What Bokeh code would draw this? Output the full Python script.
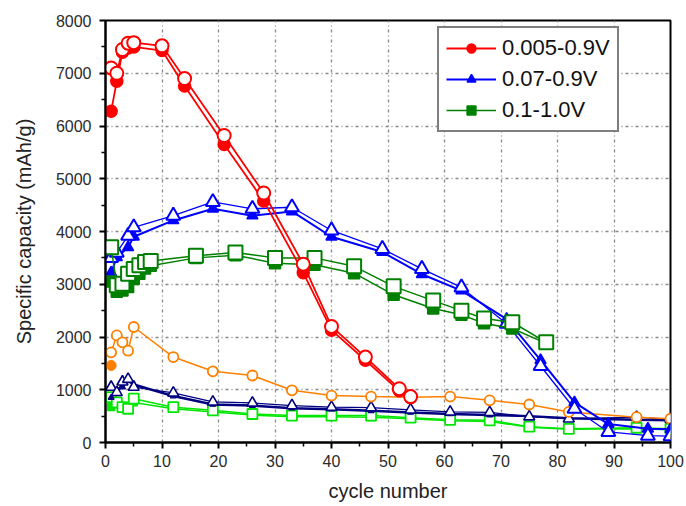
from bokeh.plotting import figure
from bokeh.models import FixedTicker, Legend, LegendItem, Range1d
from bokeh.embed import file_html
from bokeh.resources import INLINE

# ---------------- data ----------------
# 0.005-0.9V (red)
red_x      = [1, 2, 3, 4, 5, 10, 14, 21, 28, 35, 40, 46, 52, 54]
red_fill   = [6280, 6850, 7400, 7480, 7500, 7430, 6760, 5650, 4580, 3220, 2130, 1560, 980, 850]
red_open   = [7100, 7000, 7450, 7570, 7580, 7520, 6900, 5820, 4730, 3380, 2200, 1620, 1020, 870]

# 0.07-0.9V (blue)
blue_x     = [1, 2, 4, 5, 12, 19, 26, 33, 40, 49, 56, 63, 71, 77, 83, 89, 96, 100]
blue_fill  = [3220, 3510, 3700, 3900, 4210, 4430, 4300, 4380, 3900, 3610, 3190, 2880, 2340, 1560, 760, 350, 260, 250]
blue_open  = [3500, 3600, 3920, 4080, 4300, 4560, 4430, 4460, 4020, 3670, 3290, 2940, 2250, 1450, 640, 200, 130, 120]

# 0.1-1.0V (green)
green_x    = [1, 2, 3, 4, 5, 6, 7, 8, 16, 23, 30, 37, 44, 51, 58, 63, 67, 72, 78]
green_fill = [3050, 2860, 2880, 2950, 3100, 3200, 3300, 3350, 3500, 3550, 3400, 3370, 3210, 2800, 2540, 2420, 2260, 2160, 1880]
green_open = [3700, 2980, 3010, 3200, 3290, 3360, 3420, 3440, 3540, 3600, 3500, 3500, 3340, 2960, 2690, 2500, 2350, 2280, 1900]

# comparison series (lower curves)
orange_fill_x = [1]
orange_fill   = [1460]
orange_x    = [1, 2, 3, 4, 5, 12, 19, 26, 33, 40, 47, 54, 61, 68, 75, 82, 94, 100]
orange_open = [1710, 2030, 1900, 1740, 2190, 1620, 1350, 1270, 990, 890, 870, 860, 870, 800, 720, 580, 480, 450]

navy_x    = [1, 2, 3, 4, 5, 12, 19, 26, 33, 40, 47, 54, 61, 68, 75, 82, 94, 100]
navy_fill = [850, 1000, 1050, 1180, 1100, 880, 720, 700, 650, 630, 600, 570, 540, 520, 500, 460, 430, 420]
navy_open = [1050, 950, 1150, 1200, 1050, 940, 770, 750, 700, 670, 660, 620, 580, 570, 490, 450, 480, 440]

lime_x    = [1, 2, 3, 4, 5, 12, 19, 26, 33, 40, 47, 54, 61, 68, 75, 82, 94, 100]
lime_fill = [670, 720, 660, 640, 760, 640, 580, 520, 490, 490, 480, 450, 410, 400, 290, 250, 260, 240]
lime_open = [860, 760, 670, 640, 830, 670, 610, 540, 510, 510, 510, 470, 430, 420, 300, 260, 280, 260]

x_ticks = [0, 10, 20, 30, 40, 50, 60, 70, 80, 90, 100]
x_minor = [5, 15, 25, 35, 45, 55, 65, 75, 85, 95]
y_ticks = [0, 1000, 2000, 3000, 4000, 5000, 6000, 7000, 8000]
y_minor = [500, 1500, 2500, 3500, 4500, 5500, 6500, 7500]

labels = ["0.005-0.9V", "0.07-0.9V", "0.1-1.0V"]

# ---------------- figure ----------------
FONT = "Liberation Sans"
p = figure(width=686, height=506, output_backend="svg", toolbar_location=None,
           x_range=Range1d(0, 100), y_range=Range1d(0, 8000),
           min_border_left=105, min_border_right=16, min_border_top=20, min_border_bottom=64)
p.background_fill_color = "white"
p.border_fill_color = "white"
p.outline_line_color = "black"
p.outline_line_width = 2

for ax, maj, mnr in ((p.xaxis[0], x_ticks, x_minor), (p.yaxis[0], y_ticks, y_minor)):
    ax.ticker = FixedTicker(ticks=maj, minor_ticks=mnr)
    ax.axis_line_width = 2
    ax.axis_line_color = "black"
    ax.major_tick_line_width = 2
    ax.minor_tick_line_width = 1.5
    ax.major_tick_out = 6
    ax.major_tick_in = 0
    ax.minor_tick_out = 4
    ax.minor_tick_in = 0
    ax.major_label_text_font = FONT
    ax.major_label_text_font_size = "16px"
    ax.major_label_text_color = "#2a2a2a"
    ax.axis_label_text_font = FONT
    ax.axis_label_text_font_size = "20px"
    ax.axis_label_text_font_style = "normal"
    ax.axis_label_text_color = "#222222"

p.xaxis.axis_label = "cycle number"
p.yaxis.axis_label = "Specific capacity (mAh/g)"
p.xaxis.major_label_standoff = 6
p.xaxis.axis_label_standoff = 10
p.yaxis.major_label_standoff = 8
p.yaxis.axis_label_standoff = 18

p.xgrid.ticker = FixedTicker(ticks=x_ticks)
p.ygrid.ticker = FixedTicker(ticks=y_ticks)
for g in (p.xgrid[0], p.ygrid[0]):
    g.grid_line_color = "#888888"
    g.grid_line_dash = "3 3 1 3"
    g.grid_line_width = 1.3


def series(x, y, color, marker, size, fill, lw, mlw):
    ln = p.line(x, y, line_color=color, line_width=lw)
    sc = p.scatter(x, y, marker=marker, size=size, line_color=color, line_width=mlw,
                   fill_color=color if fill else "white")
    return ln, sc

# lower comparison curves
series(lime_x, lime_fill, "#00E600", "square", 7, True, 1.5, 1.2)
series(lime_x, lime_open, "#00E600", "square", 10, False, 1.5, 1.8)
series(navy_x, navy_fill, "#000080", "triangle", 6, True, 2.5, 1.2)
series(navy_x, navy_open, "#000080", "triangle", 11, False, 1.2, 1.6)
series(orange_x, orange_open, "#FF8000", "circle", 10, False, 1.5, 1.8)
p.scatter(orange_fill_x, orange_fill, marker="circle", size=10, fill_color="#FF8000", line_color="#FF8000")

# main curves
b1, b2 = series(blue_x, blue_fill, "#0000FF", "triangle", 11, True, 2, 1.5)
series(blue_x, blue_open, "#0000FF", "triangle", 14, False, 1.3, 2)
g1, g2 = series(green_x, green_fill, "#008000", "square", 11, True, 1.5, 1.5)
series(green_x, green_open, "#008000", "square", 14, False, 1.5, 2)
r1, r2 = series(red_x, red_fill, "#FF0000", "circle", 12, True, 1.8, 1.5)
series(red_x, red_open, "#FF0000", "circle", 13, False, 1.8, 2)

legend = Legend(items=[LegendItem(label=labels[0], renderers=[r1, r2]),
                       LegendItem(label=labels[1], renderers=[b1, b2]),
                       LegendItem(label=labels[2], renderers=[g1, g2])],
                location=(332, 310))
legend.border_line_color = "black"
legend.border_line_width = 2
legend.background_fill_color = "white"
legend.background_fill_alpha = 1
legend.label_text_font = FONT
legend.label_text_font_size = "22px"
legend.label_text_color = "#111111"
legend.glyph_width = 50
legend.glyph_height = 22
legend.label_height = 22
legend.spacing = 5
legend.padding = 7
legend.margin = 0
legend.label_standoff = 6
p.add_layout(legend)

open("out.html", "w").write(file_html(p, INLINE))
